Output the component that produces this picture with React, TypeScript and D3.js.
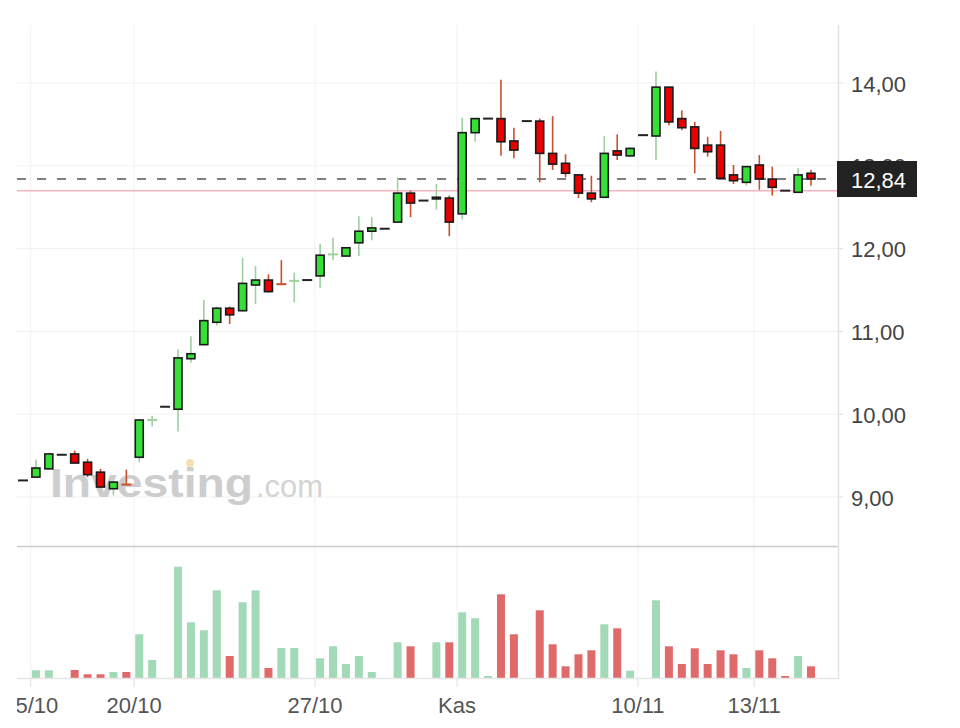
import React from 'react';
import * as d3 from 'd3';

const openP = [9.20, 9.24, 9.34, 9.51, 9.52, 9.42, 9.30, 9.10, 9.16, 9.48, 9.92, 10.09, 10.06, 10.67, 10.84, 11.11, 11.28, 11.25, 11.56, 11.62, 11.58, 11.60, 11.62, 11.67, 11.92, 11.91, 12.07, 12.21, 12.24, 12.32, 12.67, 12.58, 12.60, 12.61, 12.42, 13.40, 13.57, 13.57, 13.30, 13.54, 13.54, 13.15, 13.03, 12.89, 12.67, 12.62, 13.18, 13.12, 13.37, 13.36, 13.95, 13.57, 13.47, 13.25, 13.25, 12.89, 12.80, 13.01, 12.84, 12.70, 12.68, 12.91];
const highP = [9.20, 9.45, 9.53, 9.51, 9.56, 9.46, 9.34, 9.19, 9.33, 9.94, 9.98, 10.09, 10.78, 10.94, 11.38, 11.30, 11.30, 11.89, 11.79, 11.69, 11.86, 11.71, 11.62, 12.06, 12.13, 12.01, 12.39, 12.38, 12.24, 12.86, 12.70, 12.58, 12.78, 12.64, 13.58, 13.57, 13.57, 14.04, 13.46, 13.54, 13.57, 13.60, 13.14, 12.90, 12.88, 13.36, 13.38, 13.22, 13.37, 14.14, 13.95, 13.67, 13.53, 13.35, 13.42, 13.01, 12.99, 13.13, 12.99, 12.70, 12.97, 12.95];
const lowP = [9.20, 9.23, 9.33, 9.51, 9.41, 9.24, 9.12, 9.02, 9.15, 9.42, 9.85, 10.09, 9.79, 10.62, 10.83, 11.07, 11.09, 11.24, 11.33, 11.47, 11.565, 11.35, 11.62, 11.52, 11.86, 11.90, 11.91, 12.10, 12.24, 12.31, 12.38, 12.58, 12.47, 12.15, 12.35, 13.29, 13.57, 13.12, 13.09, 13.54, 12.80, 12.95, 12.86, 12.61, 12.56, 12.61, 13.07, 13.10, 13.37, 13.07, 13.49, 13.43, 12.91, 13.11, 12.85, 12.78, 12.76, 12.71, 12.64, 12.70, 12.68, 12.76];
const closeP = [9.20, 9.35, 9.52, 9.51, 9.41, 9.27, 9.12, 9.18, 9.15, 9.93, 9.93, 10.09, 10.68, 10.73, 11.13, 11.28, 11.20, 11.58, 11.62, 11.48, 11.57, 11.61, 11.62, 11.92, 11.93, 12.01, 12.21, 12.25, 12.24, 12.67, 12.55, 12.58, 12.62, 12.32, 13.40, 13.57, 13.57, 13.29, 13.19, 13.54, 13.15, 13.02, 12.91, 12.67, 12.60, 13.15, 13.13, 13.21, 13.37, 13.95, 13.53, 13.46, 13.21, 13.17, 12.85, 12.82, 12.99, 12.84, 12.74, 12.70, 12.89, 12.84];
const volume = [0, 77, 77, 0, 80, 37, 37, 60, 60, 437, 180, 0, 1113, 557, 477, 877, 220, 757, 877, 100, 300, 300, 0, 197, 317, 140, 220, 60, 0, 357, 317, 0, 357, 357, 657, 597, 20, 837, 437, 0, 677, 337, 117, 237, 277, 537, 497, 73, 0, 777, 317, 140, 297, 140, 277, 237, 100, 277, 197, 20, 220, 117];

const priceTicks = [9, 10, 11, 12, 13, 14];
const dateTickPos = [0.6, 8.6, 22.6, 33.6, 47.6, 56.6];
const dateTickLabels = ['15/10', '20/10', '27/10', 'Kas', '10/11', '13/11'];
const prevClose = 12.70;

const GREEN = '#36df36';
const RED = '#e60000';
const GREEN_WICK = '#9fd09f';
const RED_WICK = '#c8502e';
const VOL_GREEN = '#a2d9b7';
const VOL_RED = '#e06a6a';
const FONT = '"Liberation Sans", Arial, sans-serif';

const fmt = (v: number) => v.toFixed(2).replace('.', ',');

export default function App() {
  const W = 960, H = 728;
  const left = 17, right = 838, top = 25;
  const n = openP.length;
  const x = d3.scaleLinear().domain([0, n - 1]).range([23, 811]);
  const y = d3.scaleLinear().domain([9, 14]).range([497, 83]);
  const vMax = d3.max(volume) as number;
  const yv = d3.scaleLinear().domain([0, vMax]).range([678, 566.7]);
  const bodyW = 8;
  const volW = 8;
  const last = closeP[n - 1];

  return (
    <svg width={W} height={H} style={{ position: 'absolute', left: 0, top: 0, background: '#fff' }} fontFamily={FONT}>
      <defs>
        <clipPath id="plotclip">
          <rect x={left} y={0} width={right - left} height={H} />
        </clipPath>
      </defs>
      <rect x={0} y={0} width={W} height={H} fill="#fff" />
      {/* gridlines */}
      {priceTicks.map((t) => (
        <line key={'g' + t} x1={left} x2={right} y1={y(t)} y2={y(t)} stroke="#f1f1f1" strokeWidth={1} />
      ))}
      {dateTickPos.map((p, i) => (
        <line key={'vg' + i} x1={x(p)} x2={x(p)} y1={top} y2={678} stroke="#f1f1f1" strokeWidth={1} clipPath="url(#plotclip)" />
      ))}
      {/* watermark */}
      <g opacity={0.9}>
        <text x={50} y={497} fontSize={40} fontWeight={900} fill="#c8c8c8" textLength={203} lengthAdjust="spacingAndGlyphs">Investing</text>
        <circle cx={190} cy={463} r={4} fill="#f6dcae" />
        <text x={256} y={497} fontSize={31} fill="#d0d0d0">.com</text>
      </g>
      {/* reference lines */}
      <line x1={left} x2={right} y1={y(prevClose)} y2={y(prevClose)} stroke="#f4b4c0" strokeWidth={1.5} />
      <line x1={left} x2={right} y1={y(last)} y2={y(last)} stroke="#555" strokeWidth={1.5} strokeDasharray="9,11" />
      {/* candles */}
      {openP.map((o, i) => {
        const c = closeP[i], h = highP[i], l = lowP[i];
        const cx = x(i);
        if (h === l) {
          return <line key={'c' + i} x1={cx - 5} x2={cx + 5} y1={y(c)} y2={y(c)} stroke="#222" strokeWidth={2} />;
        }
        const up = c >= o;
        const wick = up ? GREEN_WICK : RED_WICK;
        const yTop = y(Math.max(o, c));
        const yBot = y(Math.min(o, c));
        const bodyH = yBot - yTop;
        return (
          <g key={'c' + i}>
            <line x1={cx} x2={cx} y1={y(h)} y2={y(l)} stroke={wick} strokeWidth={1.6} />
            {bodyH < 1.2 ? (
              <line x1={cx - 5} x2={cx + 5} y1={y(c)} y2={y(c)} stroke={wick} strokeWidth={2} />
            ) : (
              <rect x={cx - bodyW / 2} y={yTop} width={bodyW} height={bodyH} fill={up ? GREEN : RED} stroke="#1a1a1a" strokeWidth={1.6} />
            )}
          </g>
        );
      })}
      {/* separator */}
      <line x1={left} x2={right} y1={546.5} y2={546.5} stroke="#cccccc" strokeWidth={1.5} />
      {/* volume */}
      {volume.map((v, i) => {
        if (v <= 0) return null;
        const upV = i === 0 ? true : closeP[i] >= closeP[i - 1];
        return (
          <rect key={'v' + i} x={x(i) - volW / 2} y={yv(v)} width={volW} height={678 - yv(v)} fill={upV ? VOL_GREEN : VOL_RED} />
        );
      })}
      <line x1={left} x2={right} y1={678.5} y2={678.5} stroke="#e6e6e6" strokeWidth={1.5} />
      {/* right axis */}
      <line x1={right + 0.5} x2={right + 0.5} y1={top} y2={679} stroke="#e3e3e3" strokeWidth={1.5} />
      {priceTicks.map((t) => (
        <g key={'t' + t}>
          <line x1={right} x2={right + 5} y1={y(t)} y2={y(t)} stroke="#ddd" strokeWidth={1} />
          <text x={851} y={y(t) + 8.5} fontSize={22} fill="#444">{fmt(t)}</text>
        </g>
      ))}
      {/* current price label */}
      <rect x={837} y={161} width={80} height={36} fill="#222" />
      <text x={851} y={187.5} fontSize={22} fill="#fff">{fmt(last)}</text>
      {/* date axis */}
      <g clipPath="url(#plotclip)">
        {dateTickPos.map((p, i) => (
          <g key={'d' + i}>
            <line x1={x(p)} x2={x(p)} y1={679} y2={687} stroke="#e0e0e0" strokeWidth={1} />
            <text x={x(p)} y={713} fontSize={22} fill="#555" textAnchor="middle">{dateTickLabels[i]}</text>
          </g>
        ))}
      </g>
    </svg>
  );
}
